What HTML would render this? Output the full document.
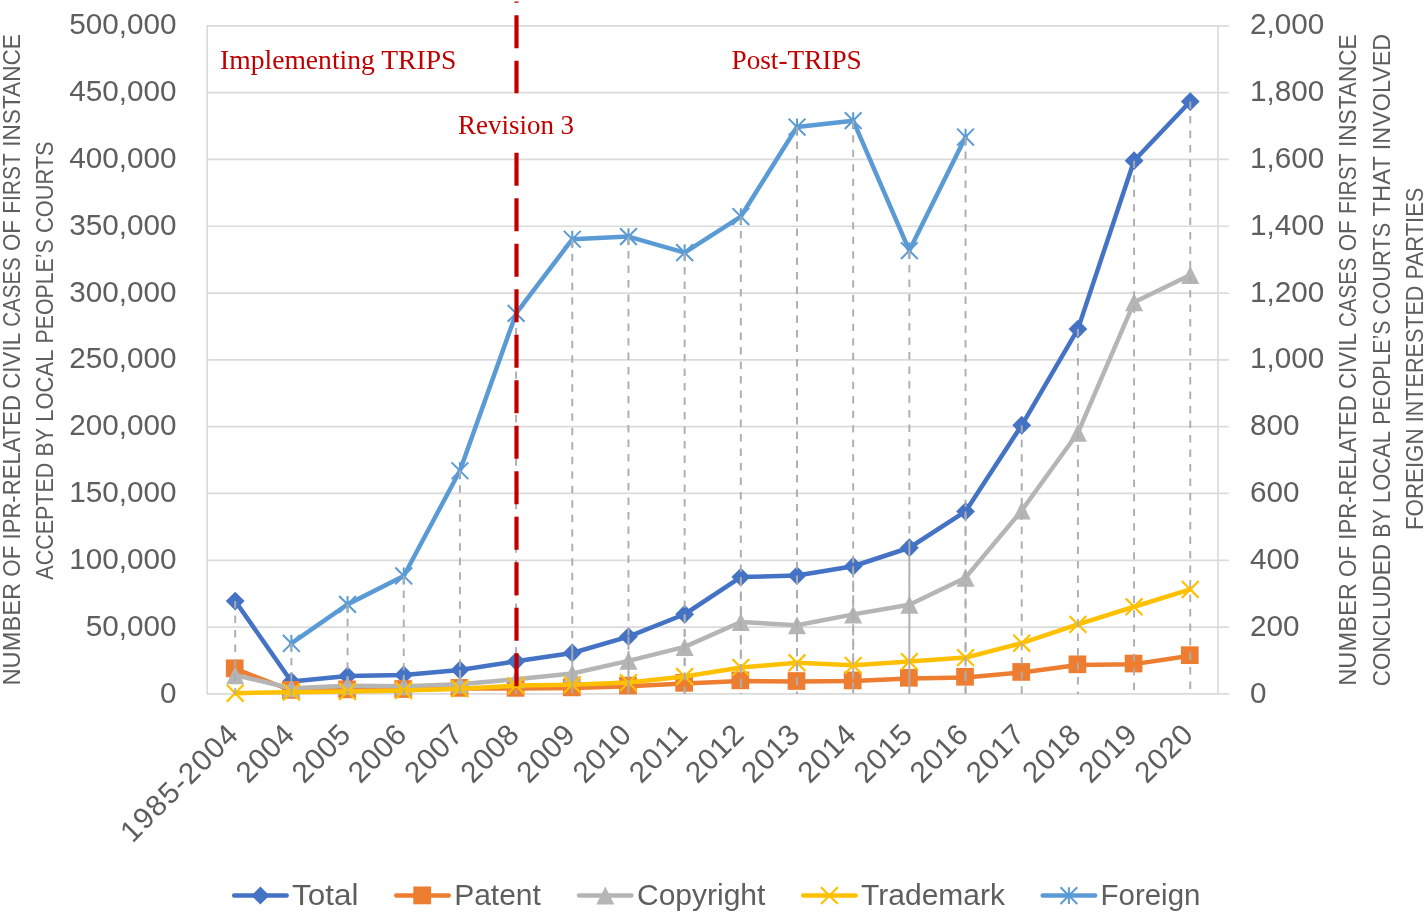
<!DOCTYPE html>
<html><head><meta charset="utf-8"><title>Chart</title>
<style>html,body{margin:0;padding:0;background:#fff;overflow:hidden}svg{display:block;will-change:transform}</style></head>
<body>
<svg width="1425" height="913" viewBox="0 0 1425 913">
<rect width="1425" height="913" fill="#fff"/>
<g stroke="#dbdbdb" stroke-width="1.7" fill="none">
<line x1="207.20" y1="693.90" x2="1228.80" y2="693.90"/>
<line x1="207.20" y1="627.09" x2="1228.80" y2="627.09"/>
<line x1="207.20" y1="560.28" x2="1228.80" y2="560.28"/>
<line x1="207.20" y1="493.47" x2="1228.80" y2="493.47"/>
<line x1="207.20" y1="426.66" x2="1228.80" y2="426.66"/>
<line x1="207.20" y1="359.85" x2="1228.80" y2="359.85"/>
<line x1="207.20" y1="293.04" x2="1228.80" y2="293.04"/>
<line x1="207.20" y1="226.23" x2="1228.80" y2="226.23"/>
<line x1="207.20" y1="159.42" x2="1228.80" y2="159.42"/>
<line x1="207.20" y1="92.61" x2="1228.80" y2="92.61"/>
<line x1="207.20" y1="25.80" x2="1228.80" y2="25.80"/>
<line x1="207.20" y1="25.05" x2="207.20" y2="694.65"/>
<line x1="1218.00" y1="25.05" x2="1218.00" y2="694.65"/>
</g>
<polyline fill="none" stroke="#4472c4" stroke-width="4.5" stroke-linejoin="round" stroke-linecap="round" points="235.20,601.03 291.38,681.43 347.56,675.96 403.74,674.90 459.92,670.01 516.10,661.29 572.28,652.98 628.46,636.54 684.64,614.25 740.82,577.09 797.00,575.54 853.18,566.26 909.36,547.74 965.54,511.46 1021.72,425.27 1077.90,329.12 1134.08,160.71 1190.26,101.53"/>
<path fill="#4472c4" d="M235.20 591.63L244.60 601.03L235.20 610.43L225.80 601.03Z"/>
<path fill="#4472c4" d="M291.38 672.03L300.78 681.43L291.38 690.83L281.98 681.43Z"/>
<path fill="#4472c4" d="M347.56 666.56L356.96 675.96L347.56 685.36L338.16 675.96Z"/>
<path fill="#4472c4" d="M403.74 665.50L413.14 674.90L403.74 684.30L394.34 674.90Z"/>
<path fill="#4472c4" d="M459.92 660.61L469.32 670.01L459.92 679.41L450.52 670.01Z"/>
<path fill="#4472c4" d="M516.10 651.89L525.50 661.29L516.10 670.69L506.70 661.29Z"/>
<path fill="#4472c4" d="M572.28 643.58L581.68 652.98L572.28 662.38L562.88 652.98Z"/>
<path fill="#4472c4" d="M628.46 627.14L637.86 636.54L628.46 645.94L619.06 636.54Z"/>
<path fill="#4472c4" d="M684.64 604.85L694.04 614.25L684.64 623.65L675.24 614.25Z"/>
<path fill="#4472c4" d="M740.82 567.69L750.22 577.09L740.82 586.49L731.42 577.09Z"/>
<path fill="#4472c4" d="M797.00 566.14L806.40 575.54L797.00 584.94L787.60 575.54Z"/>
<path fill="#4472c4" d="M853.18 556.86L862.58 566.26L853.18 575.66L843.78 566.26Z"/>
<path fill="#4472c4" d="M909.36 538.34L918.76 547.74L909.36 557.14L899.96 547.74Z"/>
<path fill="#4472c4" d="M965.54 502.06L974.94 511.46L965.54 520.86L956.14 511.46Z"/>
<path fill="#4472c4" d="M1021.72 415.87L1031.12 425.27L1021.72 434.67L1012.32 425.27Z"/>
<path fill="#4472c4" d="M1077.90 319.72L1087.30 329.12L1077.90 338.52L1068.50 329.12Z"/>
<path fill="#4472c4" d="M1134.08 151.31L1143.48 160.71L1134.08 170.11L1124.68 160.71Z"/>
<path fill="#4472c4" d="M1190.26 92.13L1199.66 101.53L1190.26 110.93L1180.86 101.53Z"/>
<polyline fill="none" stroke="#ed7d31" stroke-width="4.5" stroke-linejoin="round" stroke-linecap="round" points="235.20,668.91 291.38,690.49 347.56,689.96 403.74,689.63 459.92,688.50 516.10,688.46 572.28,687.99 628.46,686.17 684.64,683.45 740.82,680.97 797.00,681.61 853.18,681.01 909.36,678.39 965.54,677.39 1021.72,672.51 1077.90,664.91 1134.08,664.14 1190.26,655.78"/>
<rect fill="#ed7d31" x="225.85" y="659.46" width="17.70" height="17.70"/>
<rect fill="#ed7d31" x="282.03" y="681.04" width="17.70" height="17.70"/>
<rect fill="#ed7d31" x="338.21" y="680.51" width="17.70" height="17.70"/>
<rect fill="#ed7d31" x="394.39" y="680.18" width="17.70" height="17.70"/>
<rect fill="#ed7d31" x="450.57" y="679.05" width="17.70" height="17.70"/>
<rect fill="#ed7d31" x="506.75" y="679.01" width="17.70" height="17.70"/>
<rect fill="#ed7d31" x="562.93" y="678.54" width="17.70" height="17.70"/>
<rect fill="#ed7d31" x="619.11" y="676.72" width="17.70" height="17.70"/>
<rect fill="#ed7d31" x="675.29" y="674.00" width="17.70" height="17.70"/>
<rect fill="#ed7d31" x="731.47" y="671.52" width="17.70" height="17.70"/>
<rect fill="#ed7d31" x="787.65" y="672.16" width="17.70" height="17.70"/>
<rect fill="#ed7d31" x="843.83" y="671.56" width="17.70" height="17.70"/>
<rect fill="#ed7d31" x="900.01" y="668.94" width="17.70" height="17.70"/>
<rect fill="#ed7d31" x="956.19" y="667.94" width="17.70" height="17.70"/>
<rect fill="#ed7d31" x="1012.37" y="663.06" width="17.70" height="17.70"/>
<rect fill="#ed7d31" x="1068.55" y="655.46" width="17.70" height="17.70"/>
<rect fill="#ed7d31" x="1124.73" y="654.69" width="17.70" height="17.70"/>
<rect fill="#ed7d31" x="1180.91" y="646.33" width="17.70" height="17.70"/>
<polyline fill="none" stroke="#b5b5b5" stroke-width="4.5" stroke-linejoin="round" stroke-linecap="round" points="235.20,675.19 291.38,688.20 347.56,685.75 403.74,686.26 459.92,684.20 516.10,679.27 572.28,673.45 628.46,660.87 684.64,646.89 740.82,621.95 797.00,625.28 853.18,614.41 909.36,604.79 965.54,577.67 1021.72,510.48 1077.90,432.80 1134.08,302.31 1190.26,275.01"/>
<path fill="#b5b5b5" d="M235.20 666.19L244.20 684.19L226.20 684.19Z"/>
<path fill="#b5b5b5" d="M291.38 679.20L300.38 697.20L282.38 697.20Z"/>
<path fill="#b5b5b5" d="M347.56 676.75L356.56 694.75L338.56 694.75Z"/>
<path fill="#b5b5b5" d="M403.74 677.26L412.74 695.26L394.74 695.26Z"/>
<path fill="#b5b5b5" d="M459.92 675.20L468.92 693.20L450.92 693.20Z"/>
<path fill="#b5b5b5" d="M516.10 670.27L525.10 688.27L507.10 688.27Z"/>
<path fill="#b5b5b5" d="M572.28 664.45L581.28 682.45L563.28 682.45Z"/>
<path fill="#b5b5b5" d="M628.46 651.87L637.46 669.87L619.46 669.87Z"/>
<path fill="#b5b5b5" d="M684.64 637.89L693.64 655.89L675.64 655.89Z"/>
<path fill="#b5b5b5" d="M740.82 612.95L749.82 630.95L731.82 630.95Z"/>
<path fill="#b5b5b5" d="M797.00 616.28L806.00 634.28L788.00 634.28Z"/>
<path fill="#b5b5b5" d="M853.18 605.41L862.18 623.41L844.18 623.41Z"/>
<path fill="#b5b5b5" d="M909.36 595.79L918.36 613.79L900.36 613.79Z"/>
<path fill="#b5b5b5" d="M965.54 568.67L974.54 586.67L956.54 586.67Z"/>
<path fill="#b5b5b5" d="M1021.72 501.48L1030.72 519.48L1012.72 519.48Z"/>
<path fill="#b5b5b5" d="M1077.90 423.80L1086.90 441.80L1068.90 441.80Z"/>
<path fill="#b5b5b5" d="M1134.08 293.31L1143.08 311.31L1125.08 311.31Z"/>
<path fill="#b5b5b5" d="M1190.26 266.01L1199.26 284.01L1181.26 284.01Z"/>
<polyline fill="none" stroke="#ffc000" stroke-width="4.5" stroke-linejoin="round" stroke-linecap="round" points="235.20,693.23 291.38,692.13 347.56,691.52 403.74,690.53 459.92,688.75 516.10,685.57 572.28,684.67 628.46,682.60 684.64,676.54 740.82,667.42 797.00,662.80 853.18,665.36 909.36,661.61 965.54,657.58 1021.72,643.20 1077.90,624.42 1134.08,606.77 1190.26,589.47"/>
<path fill="none" stroke="#ffc000" stroke-width="2.2" d="M226.80 684.83L243.60 701.63M226.80 701.63L243.60 684.83"/>
<path fill="none" stroke="#ffc000" stroke-width="2.2" d="M282.98 683.73L299.78 700.53M282.98 700.53L299.78 683.73"/>
<path fill="none" stroke="#ffc000" stroke-width="2.2" d="M339.16 683.12L355.96 699.92M339.16 699.92L355.96 683.12"/>
<path fill="none" stroke="#ffc000" stroke-width="2.2" d="M395.34 682.13L412.14 698.93M395.34 698.93L412.14 682.13"/>
<path fill="none" stroke="#ffc000" stroke-width="2.2" d="M451.52 680.35L468.32 697.15M451.52 697.15L468.32 680.35"/>
<path fill="none" stroke="#ffc000" stroke-width="2.2" d="M507.70 677.17L524.50 693.97M507.70 693.97L524.50 677.17"/>
<path fill="none" stroke="#ffc000" stroke-width="2.2" d="M563.88 676.27L580.68 693.07M563.88 693.07L580.68 676.27"/>
<path fill="none" stroke="#ffc000" stroke-width="2.2" d="M620.06 674.20L636.86 691.00M620.06 691.00L636.86 674.20"/>
<path fill="none" stroke="#ffc000" stroke-width="2.2" d="M676.24 668.14L693.04 684.94M676.24 684.94L693.04 668.14"/>
<path fill="none" stroke="#ffc000" stroke-width="2.2" d="M732.42 659.02L749.22 675.82M732.42 675.82L749.22 659.02"/>
<path fill="none" stroke="#ffc000" stroke-width="2.2" d="M788.60 654.40L805.40 671.20M788.60 671.20L805.40 654.40"/>
<path fill="none" stroke="#ffc000" stroke-width="2.2" d="M844.78 656.96L861.58 673.76M844.78 673.76L861.58 656.96"/>
<path fill="none" stroke="#ffc000" stroke-width="2.2" d="M900.96 653.21L917.76 670.01M900.96 670.01L917.76 653.21"/>
<path fill="none" stroke="#ffc000" stroke-width="2.2" d="M957.14 649.18L973.94 665.98M957.14 665.98L973.94 649.18"/>
<path fill="none" stroke="#ffc000" stroke-width="2.2" d="M1013.32 634.80L1030.12 651.60M1013.32 651.60L1030.12 634.80"/>
<path fill="none" stroke="#ffc000" stroke-width="2.2" d="M1069.50 616.02L1086.30 632.82M1069.50 632.82L1086.30 616.02"/>
<path fill="none" stroke="#ffc000" stroke-width="2.2" d="M1125.68 598.37L1142.48 615.17M1125.68 615.17L1142.48 598.37"/>
<path fill="none" stroke="#ffc000" stroke-width="2.2" d="M1181.86 581.07L1198.66 597.87M1181.86 597.87L1198.66 581.07"/>
<polyline fill="none" stroke="#5b9bd5" stroke-width="4.5" stroke-linejoin="round" stroke-linecap="round" points="291.38,643.46 347.56,604.37 403.74,575.98 459.92,470.75 516.10,313.42 572.28,239.26 628.46,236.59 684.64,252.62 740.82,216.54 797.00,127.02 853.18,120.67 909.36,250.62 965.54,137.04"/>
<path fill="none" stroke="#5b9bd5" stroke-width="2.0" d="M282.98 635.06L299.78 651.86M282.98 651.86L299.78 635.06M291.38 635.06L291.38 651.86"/>
<path fill="none" stroke="#5b9bd5" stroke-width="2.0" d="M339.16 595.97L355.96 612.77M339.16 612.77L355.96 595.97M347.56 595.97L347.56 612.77"/>
<path fill="none" stroke="#5b9bd5" stroke-width="2.0" d="M395.34 567.58L412.14 584.38M395.34 584.38L412.14 567.58M403.74 567.58L403.74 584.38"/>
<path fill="none" stroke="#5b9bd5" stroke-width="2.0" d="M451.52 462.35L468.32 479.15M451.52 479.15L468.32 462.35M459.92 462.35L459.92 479.15"/>
<path fill="none" stroke="#5b9bd5" stroke-width="2.0" d="M507.70 305.02L524.50 321.82M507.70 321.82L524.50 305.02M516.10 305.02L516.10 321.82"/>
<path fill="none" stroke="#5b9bd5" stroke-width="2.0" d="M563.88 230.86L580.68 247.66M563.88 247.66L580.68 230.86M572.28 230.86L572.28 247.66"/>
<path fill="none" stroke="#5b9bd5" stroke-width="2.0" d="M620.06 228.19L636.86 244.99M620.06 244.99L636.86 228.19M628.46 228.19L628.46 244.99"/>
<path fill="none" stroke="#5b9bd5" stroke-width="2.0" d="M676.24 244.22L693.04 261.02M676.24 261.02L693.04 244.22M684.64 244.22L684.64 261.02"/>
<path fill="none" stroke="#5b9bd5" stroke-width="2.0" d="M732.42 208.14L749.22 224.94M732.42 224.94L749.22 208.14M740.82 208.14L740.82 224.94"/>
<path fill="none" stroke="#5b9bd5" stroke-width="2.0" d="M788.60 118.62L805.40 135.42M788.60 135.42L805.40 118.62M797.00 118.62L797.00 135.42"/>
<path fill="none" stroke="#5b9bd5" stroke-width="2.0" d="M844.78 112.27L861.58 129.07M844.78 129.07L861.58 112.27M853.18 112.27L853.18 129.07"/>
<path fill="none" stroke="#5b9bd5" stroke-width="2.0" d="M900.96 242.22L917.76 259.02M900.96 259.02L917.76 242.22M909.36 242.22L909.36 259.02"/>
<path fill="none" stroke="#5b9bd5" stroke-width="2.0" d="M957.14 128.64L973.94 145.44M957.14 145.44L973.94 128.64M965.54 128.64L965.54 145.44"/>
<g stroke="#adadad" stroke-width="1.9" stroke-dasharray="7.4 7.1" fill="none">
<line x1="235.20" y1="601.03" x2="235.20" y2="693.90"/>
<line x1="291.38" y1="681.43" x2="291.38" y2="693.90"/>
<line x1="347.56" y1="675.96" x2="347.56" y2="693.90"/>
<line x1="403.74" y1="674.90" x2="403.74" y2="693.90"/>
<line x1="459.92" y1="670.01" x2="459.92" y2="693.90"/>
<line x1="516.10" y1="661.29" x2="516.10" y2="693.90"/>
<line x1="572.28" y1="652.98" x2="572.28" y2="693.90"/>
<line x1="628.46" y1="636.54" x2="628.46" y2="693.90"/>
<line x1="684.64" y1="614.25" x2="684.64" y2="693.90"/>
<line x1="740.82" y1="577.09" x2="740.82" y2="693.90"/>
<line x1="797.00" y1="575.54" x2="797.00" y2="693.90"/>
<line x1="853.18" y1="566.26" x2="853.18" y2="693.90"/>
<line x1="909.36" y1="547.74" x2="909.36" y2="693.90"/>
<line x1="965.54" y1="511.46" x2="965.54" y2="693.90"/>
<line x1="1021.72" y1="425.27" x2="1021.72" y2="693.90"/>
<line x1="1077.90" y1="329.12" x2="1077.90" y2="693.90"/>
<line x1="1134.08" y1="160.71" x2="1134.08" y2="693.90"/>
<line x1="1190.26" y1="101.53" x2="1190.26" y2="693.90"/>
<line x1="291.38" y1="643.46" x2="291.38" y2="693.90"/>
<line x1="347.56" y1="604.37" x2="347.56" y2="693.90"/>
<line x1="403.74" y1="575.98" x2="403.74" y2="693.90"/>
<line x1="459.92" y1="470.75" x2="459.92" y2="693.90"/>
<line x1="516.10" y1="313.42" x2="516.10" y2="693.90"/>
<line x1="572.28" y1="239.26" x2="572.28" y2="693.90"/>
<line x1="628.46" y1="236.59" x2="628.46" y2="693.90"/>
<line x1="684.64" y1="252.62" x2="684.64" y2="693.90"/>
<line x1="740.82" y1="216.54" x2="740.82" y2="693.90"/>
<line x1="797.00" y1="127.02" x2="797.00" y2="693.90"/>
<line x1="853.18" y1="120.67" x2="853.18" y2="693.90"/>
<line x1="909.36" y1="250.62" x2="909.36" y2="693.90"/>
<line x1="965.54" y1="137.04" x2="965.54" y2="693.90"/>
</g>
<line x1="516.5" y1="1.5" x2="516.5" y2="93.3" stroke="#c00000" stroke-width="4.2" stroke-dasharray="33 12.5" stroke-dashoffset="31.7"/>
<line x1="516.5" y1="152.7" x2="516.5" y2="687" stroke="#c00000" stroke-width="4.2" stroke-dasharray="33 12.5" stroke-dashoffset="0"/>
<g font-family="Liberation Sans, sans-serif" font-size="29.7" fill="#5e5e5e">
<text x="176.5" y="702.50" text-anchor="end">0</text>
<text x="1250" y="702.50">0</text>
<text x="176.5" y="635.69" text-anchor="end">50,000</text>
<text x="1250" y="635.69">200</text>
<text x="176.5" y="568.88" text-anchor="end">100,000</text>
<text x="1250" y="568.88">400</text>
<text x="176.5" y="502.07" text-anchor="end">150,000</text>
<text x="1250" y="502.07">600</text>
<text x="176.5" y="435.26" text-anchor="end">200,000</text>
<text x="1250" y="435.26">800</text>
<text x="176.5" y="368.45" text-anchor="end">250,000</text>
<text x="1250" y="368.45">1,000</text>
<text x="176.5" y="301.64" text-anchor="end">300,000</text>
<text x="1250" y="301.64">1,200</text>
<text x="176.5" y="234.83" text-anchor="end">350,000</text>
<text x="1250" y="234.83">1,400</text>
<text x="176.5" y="168.02" text-anchor="end">400,000</text>
<text x="1250" y="168.02">1,600</text>
<text x="176.5" y="101.21" text-anchor="end">450,000</text>
<text x="1250" y="101.21">1,800</text>
<text x="176.5" y="34.40" text-anchor="end">500,000</text>
<text x="1250" y="34.40">2,000</text>
<text transform="translate(239.70 736.5) rotate(-45)" text-anchor="end" textLength="151.5">1985-2004</text>
<text transform="translate(295.88 736.5) rotate(-45)" text-anchor="end" textLength="67.8">2004</text>
<text transform="translate(352.06 736.5) rotate(-45)" text-anchor="end" textLength="67.8">2005</text>
<text transform="translate(408.24 736.5) rotate(-45)" text-anchor="end" textLength="67.8">2006</text>
<text transform="translate(464.42 736.5) rotate(-45)" text-anchor="end" textLength="67.8">2007</text>
<text transform="translate(520.60 736.5) rotate(-45)" text-anchor="end" textLength="67.8">2008</text>
<text transform="translate(576.78 736.5) rotate(-45)" text-anchor="end" textLength="67.8">2009</text>
<text transform="translate(632.96 736.5) rotate(-45)" text-anchor="end" textLength="67.8">2010</text>
<text transform="translate(689.14 736.5) rotate(-45)" text-anchor="end" textLength="67.8">2011</text>
<text transform="translate(745.32 736.5) rotate(-45)" text-anchor="end" textLength="67.8">2012</text>
<text transform="translate(801.50 736.5) rotate(-45)" text-anchor="end" textLength="67.8">2013</text>
<text transform="translate(857.68 736.5) rotate(-45)" text-anchor="end" textLength="67.8">2014</text>
<text transform="translate(913.86 736.5) rotate(-45)" text-anchor="end" textLength="67.8">2015</text>
<text transform="translate(970.04 736.5) rotate(-45)" text-anchor="end" textLength="67.8">2016</text>
<text transform="translate(1026.22 736.5) rotate(-45)" text-anchor="end" textLength="67.8">2017</text>
<text transform="translate(1082.40 736.5) rotate(-45)" text-anchor="end" textLength="67.8">2018</text>
<text transform="translate(1138.58 736.5) rotate(-45)" text-anchor="end" textLength="67.8">2019</text>
<text transform="translate(1194.76 736.5) rotate(-45)" text-anchor="end" textLength="67.8">2020</text>
</g>
<g font-family="Liberation Sans, sans-serif" font-size="24.4" fill="#5e5e5e">
<text transform="translate(20.1 359.75) rotate(-90)" text-anchor="start"><tspan x="-325.73" textLength="102.58" lengthAdjust="spacingAndGlyphs">NUMBER</tspan><tspan x="-216.91" textLength="30.93" lengthAdjust="spacingAndGlyphs">OF</tspan><tspan x="-179.75" textLength="144.52" lengthAdjust="spacingAndGlyphs">IPR-RELATED</tspan><tspan x="-29.00" textLength="55.84" lengthAdjust="spacingAndGlyphs">CIVIL</tspan><tspan x="33.08" textLength="69.47" lengthAdjust="spacingAndGlyphs">CASES</tspan><tspan x="108.79" textLength="30.93" lengthAdjust="spacingAndGlyphs">OF</tspan><tspan x="145.95" textLength="60.70" lengthAdjust="spacingAndGlyphs">FIRST</tspan><tspan x="212.88" textLength="112.84" lengthAdjust="spacingAndGlyphs">INSTANCE</tspan></text>
<text transform="translate(53.4 360.5) rotate(-90)" text-anchor="start"><tspan x="-219.16" textLength="116.98" lengthAdjust="spacingAndGlyphs">ACCEPTED</tspan><tspan x="-95.94" textLength="28.45" lengthAdjust="spacingAndGlyphs">BY</tspan><tspan x="-61.26" textLength="72.12" lengthAdjust="spacingAndGlyphs">LOCAL</tspan><tspan x="17.09" textLength="104.07" lengthAdjust="spacingAndGlyphs">PEOPLE’S</tspan><tspan x="127.40" textLength="91.76" lengthAdjust="spacingAndGlyphs">COURTS</tspan></text>
<text transform="translate(1356.3 360.0) rotate(-90)" text-anchor="start"><tspan x="-325.73" textLength="102.58" lengthAdjust="spacingAndGlyphs">NUMBER</tspan><tspan x="-216.91" textLength="30.93" lengthAdjust="spacingAndGlyphs">OF</tspan><tspan x="-179.75" textLength="144.52" lengthAdjust="spacingAndGlyphs">IPR-RELATED</tspan><tspan x="-29.00" textLength="55.84" lengthAdjust="spacingAndGlyphs">CIVIL</tspan><tspan x="33.08" textLength="69.47" lengthAdjust="spacingAndGlyphs">CASES</tspan><tspan x="108.79" textLength="30.93" lengthAdjust="spacingAndGlyphs">OF</tspan><tspan x="145.95" textLength="60.70" lengthAdjust="spacingAndGlyphs">FIRST</tspan><tspan x="212.88" textLength="112.84" lengthAdjust="spacingAndGlyphs">INSTANCE</tspan></text>
<text transform="translate(1389.8 360.0) rotate(-90)" text-anchor="start"><tspan x="-326.20" textLength="142.20" lengthAdjust="spacingAndGlyphs">CONCLUDED</tspan><tspan x="-177.76" textLength="28.45" lengthAdjust="spacingAndGlyphs">BY</tspan><tspan x="-143.08" textLength="72.12" lengthAdjust="spacingAndGlyphs">LOCAL</tspan><tspan x="-64.73" textLength="104.07" lengthAdjust="spacingAndGlyphs">PEOPLE’S</tspan><tspan x="45.58" textLength="91.76" lengthAdjust="spacingAndGlyphs">COURTS</tspan><tspan x="143.58" textLength="60.04" lengthAdjust="spacingAndGlyphs">THAT</tspan><tspan x="209.85" textLength="116.35" lengthAdjust="spacingAndGlyphs">INVOLVED</tspan></text>
<text transform="translate(1422.8 358.8) rotate(-90)" text-anchor="start"><tspan x="-171.21" textLength="101.56" lengthAdjust="spacingAndGlyphs">FOREIGN</tspan><tspan x="-63.42" textLength="136.65" lengthAdjust="spacingAndGlyphs">INTERESTED</tspan><tspan x="79.47" textLength="91.74" lengthAdjust="spacingAndGlyphs">PARTIES</tspan></text>
</g>
<g font-family="Liberation Serif, serif" font-size="28.3" fill="#c00000" lengthAdjust="spacingAndGlyphs">
<text x="220" y="69.2" textLength="236.4" lengthAdjust="spacingAndGlyphs">Implementing TRIPS</text>
<text x="458" y="134.4" textLength="116.1" lengthAdjust="spacingAndGlyphs">Revision 3</text>
<text x="731.5" y="69.2" textLength="130.2" lengthAdjust="spacingAndGlyphs">Post-TRIPS</text>
</g>
<g font-family="Liberation Sans, sans-serif" font-size="29.7" fill="#5e5e5e">
<line x1="234.20000000000002" y1="895.6" x2="286.6" y2="895.6" stroke="#4472c4" stroke-width="4.5" stroke-linecap="round"/>
<path fill="#4472c4" d="M260.40 886.60L269.40 895.60L260.40 904.60L251.40 895.60Z"/>
<text x="292.1" y="905.3" textLength="66.4" lengthAdjust="spacingAndGlyphs">Total</text>
<line x1="396.3" y1="895.6" x2="448.7" y2="895.6" stroke="#ed7d31" stroke-width="4.5" stroke-linecap="round"/>
<rect fill="#ed7d31" x="413.30" y="886.50" width="17.80" height="17.80"/>
<text x="454.2" y="905.3" textLength="86.7" lengthAdjust="spacingAndGlyphs">Patent</text>
<line x1="579.0999999999999" y1="895.6" x2="631.5" y2="895.6" stroke="#b5b5b5" stroke-width="4.5" stroke-linecap="round"/>
<path fill="#b5b5b5" d="M605.30 886.60L614.30 904.60L596.30 904.60Z"/>
<text x="637.0" y="905.3" textLength="128.4" lengthAdjust="spacingAndGlyphs">Copyright</text>
<line x1="803.1999999999999" y1="895.6" x2="855.6" y2="895.6" stroke="#ffc000" stroke-width="4.5" stroke-linecap="round"/>
<path fill="none" stroke="#ffc000" stroke-width="2.2" d="M821.00 887.20L837.80 904.00M821.00 904.00L837.80 887.20"/>
<text x="861.1" y="905.3" textLength="143.9" lengthAdjust="spacingAndGlyphs">Trademark</text>
<line x1="1042.7" y1="895.6" x2="1095.1000000000001" y2="895.6" stroke="#5b9bd5" stroke-width="4.5" stroke-linecap="round"/>
<path fill="none" stroke="#5b9bd5" stroke-width="2.0" d="M1060.50 887.20L1077.30 904.00M1060.50 904.00L1077.30 887.20M1068.90 887.20L1068.90 904.00"/>
<text x="1100.6" y="905.3" textLength="99.8" lengthAdjust="spacingAndGlyphs">Foreign</text>
</g>
</svg>
</body></html>
